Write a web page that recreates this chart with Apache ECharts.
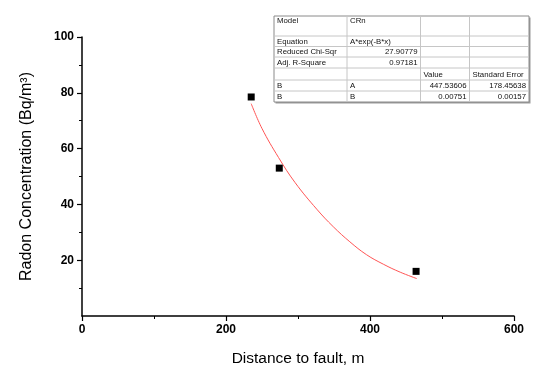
<!DOCTYPE html>
<html>
<head>
<meta charset="utf-8">
<script src="https://cdn.jsdelivr.net/npm/echarts@6/dist/echarts.min.js"></script>
<style>
html,body{margin:0;padding:0;background:#fff;}
#chart{width:550px;height:377px;}
</style>
</head>
<body>
<div id="chart"></div>
<script>
// ---- data ----
var pointsX = [235, 274, 464];
var pointsY = [78.5, 53, 16];
var fitX = [235, 250, 273, 296, 326, 349, 372, 395, 419, 442, 465];
var fitY = [76.1, 67.2, 56.8, 47.8, 38.3, 32.0, 26.6, 22.0, 18.5, 15.7, 13.4];
var xTicks = [0, 200, 400, 600];
var yTicks = [20, 40, 60, 80, 100];
var tableRows = [
  ["Model", "CRn", "", ""],
  ["Equation", "A*exp(-B*x)", "", ""],
  ["Reduced Chi-Sqr", "27.90779", "", ""],
  ["Adj. R-Square", "0.97181", "", ""],
  ["", "", "Value", "Standard Error"],
  ["B", "A", "447.53606", "178.45638"],
  ["B", "B", "0.00751", "0.00157"]
];
var xTitle = "Distance to fault, m";
var yTitle = "Radon Concentration (Bq/m\u00B3)";

// ---- build ----
var FONT = "'Liberation Sans', Arial, sans-serif";
var scatterData = pointsX.map(function (x, i) { return [x, pointsY[i]]; });
var fitData = fitX.map(function (x, i) { return [x, fitY[i]]; });

// table layout (pixel)
var colX = [274, 347, 420.5, 469.5, 529];
var rowY = [16, 36, 46.5, 57, 68, 80, 91, 102];
var rightAligned = {"2-1": 1, "3-1": 1, "5-2": 1, "5-3": 1, "6-2": 1, "6-3": 1};
var g = [];
g.push({type: 'rect', shape: {x: colX[0] + 1.5, y: rowY[0] + 1.5, width: colX[4] - colX[0], height: rowY[7] - rowY[0]},
  style: {fill: '#9a9a9a'}, z: 10});
g.push({type: 'rect', shape: {x: colX[0], y: rowY[0], width: colX[4] - colX[0], height: rowY[7] - rowY[0]},
  style: {fill: '#fff', stroke: '#8a8a8a', lineWidth: 1}, z: 11});
for (var r = 1; r < rowY.length - 1; r++) {
  g.push({type: 'line', shape: {x1: colX[0], y1: rowY[r], x2: colX[4], y2: rowY[r]},
    style: {stroke: '#c6c6c6', lineWidth: 1}, z: 12});
}
for (var c = 1; c < colX.length - 1; c++) {
  g.push({type: 'line', shape: {x1: colX[c], y1: rowY[0], x2: colX[c], y2: rowY[7]},
    style: {stroke: '#c6c6c6', lineWidth: 1}, z: 12});
}
tableRows.forEach(function (row, ri) {
  row.forEach(function (txt, ci) {
    if (!txt) return;
    var ra = rightAligned[ri + "-" + ci];
    var cy = ri === 0 ? rowY[0] + 5 : (rowY[ri] + rowY[ri + 1]) / 2 + 0.5;
    g.push({type: 'text', z: 13,
      style: {text: txt, x: ra ? colX[ci + 1] - 3 : colX[ci] + 3, y: cy,
        align: ra ? 'right' : 'left', verticalAlign: 'middle',
        font: '7.8px ' + FONT, fill: '#111'}});
  });
});

var chart = echarts.init(document.getElementById('chart'), null, {renderer: 'canvas'});
chart.setOption({
  backgroundColor: '#fff',
  animation: false,
  grid: {left: 82, right: 36, top: 37, bottom: 61, containLabel: false},
  xAxis: {
    type: 'value', min: 0, max: 600, interval: 200,
    name: xTitle, nameLocation: 'middle', nameGap: 35,
    nameTextStyle: {fontFamily: FONT, fontSize: 15.5, color: '#000'},
    axisLine: {onZero: false, lineStyle: {color: '#000', width: 1.5}},
    axisTick: {show: true, length: 5, lineStyle: {color: '#000', width: 1.2}, customValues: xTicks},
    minorTick: {show: true, splitNumber: 2, length: 3, lineStyle: {color: '#000', width: 1}},
    axisLabel: {fontFamily: FONT, fontSize: 12, fontWeight: 'bold', color: '#000', margin: 8, customValues: xTicks},
    splitLine: {show: false}
  },
  yAxis: {
    type: 'value', min: 0, max: 100, interval: 20,
    name: yTitle, nameLocation: 'middle', nameGap: 47, nameRotate: 90,
    nameTextStyle: {fontFamily: FONT, fontSize: 16, color: '#000'},
    axisLine: {onZero: false, lineStyle: {color: '#000', width: 1.5}},
    axisTick: {show: true, length: 5, lineStyle: {color: '#000', width: 1.2}, customValues: yTicks},
    minorTick: {show: true, splitNumber: 2, length: 3, lineStyle: {color: '#000', width: 1}},
    axisLabel: {fontFamily: FONT, fontSize: 12, fontWeight: 'bold', color: '#000', margin: 8, customValues: yTicks},
    splitLine: {show: false}
  },
  series: [
    {type: 'line', data: fitData, smooth: 0.4, showSymbol: false, symbol: 'none',
      lineStyle: {color: '#ff5555', width: 1}, z: 2},
    {type: 'scatter', data: scatterData, symbol: 'rect', symbolSize: 7,
      itemStyle: {color: '#000', opacity: 1}, z: 3}
  ],
  graphic: g
});
</script>
</body>
</html>
